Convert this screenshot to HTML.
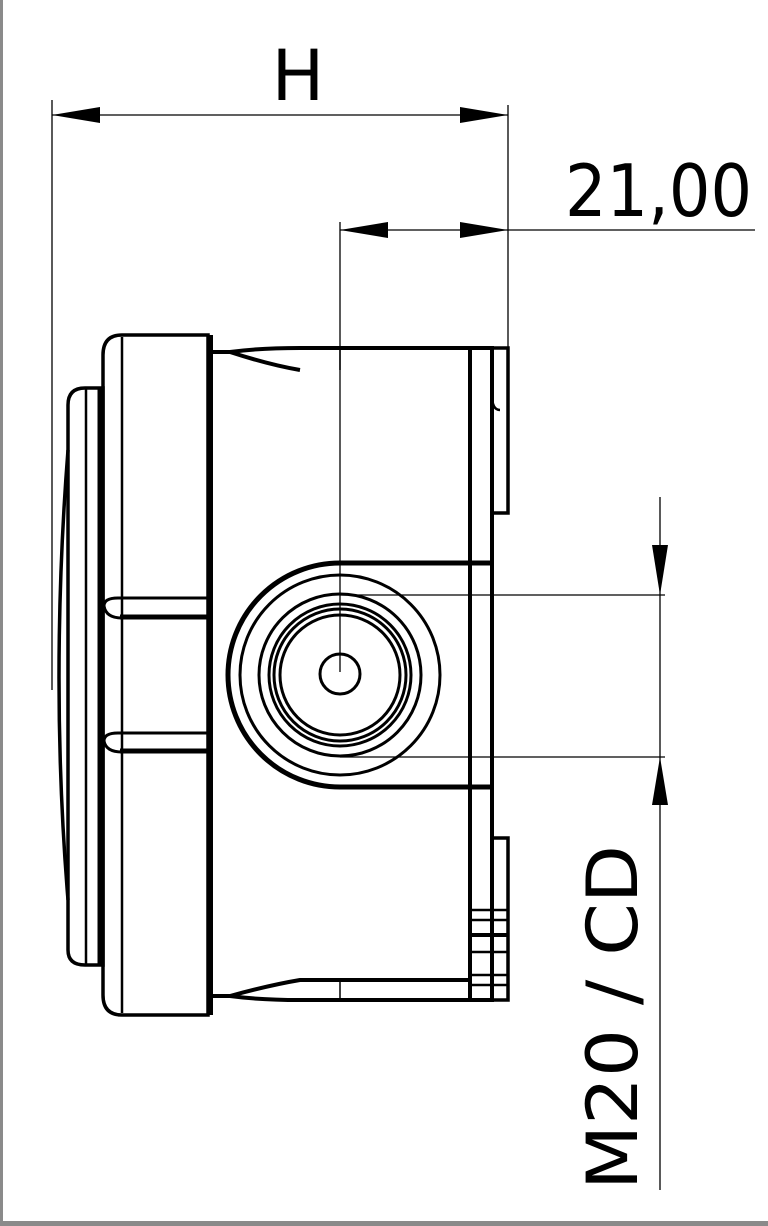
<!DOCTYPE html>
<html><head><meta charset="utf-8"><style>
html,body{margin:0;padding:0;background:#fff}
svg{display:block}
text{font-family:"DejaVu Sans","Liberation Sans",sans-serif;fill:#000}
</style></head><body>
<svg width="768" height="1226" viewBox="0 0 768 1226" xmlns="http://www.w3.org/2000/svg">
<rect x="0" y="0" width="768" height="1226" fill="#fff"/>
<rect x="0" y="0" width="3" height="1226" fill="#8a8a8a"/>
<rect x="0" y="1221" width="768" height="5" fill="#8a8a8a"/>
<g stroke="#000" fill="none">
<g stroke-width="1.3">
<line x1="52" y1="100" x2="52" y2="690"/>
<line x1="508" y1="105" x2="508" y2="350"/>
<line x1="52" y1="115" x2="508" y2="115"/>
<line x1="340" y1="222" x2="340" y2="672"/>
<line x1="340" y1="230" x2="755" y2="230"/>
<line x1="660" y1="497" x2="660" y2="1190"/>
<line x1="340" y1="595" x2="665" y2="595"/>
<line x1="340" y1="757" x2="665" y2="757"/>
</g>
<path d="M68 405 Q68 388 85 388 L103 388 L103 965 L85 965 Q68 965 68 950 Z" stroke-width="3.5"/>
<line x1="86" y1="388" x2="86" y2="965" stroke-width="2.5"/>
<line x1="100" y1="388" x2="100" y2="965" stroke-width="5"/>
<path d="M68 450 Q50 680 68 900" stroke-width="3.5"/>
<path d="M122 335 L208 335 L208 1015 L122 1015 Q103 1015 103 995 L103 355 Q103 335 122 335 Z" stroke-width="3.5"/>
<line x1="122" y1="337" x2="122" y2="1013" stroke-width="2.5"/>
<line x1="210" y1="335" x2="210" y2="1015" stroke-width="6"/>
<path d="M208 598 L118 598 Q104 598 104 606 Q106 618 122 618 L208 618" stroke-width="3"/>
<line x1="120" y1="617" x2="208" y2="617" stroke-width="5"/>
<path d="M208 733 L118 733 Q104 733 104 741 Q106 752 122 752 L208 752" stroke-width="3"/>
<line x1="120" y1="751" x2="208" y2="751" stroke-width="5"/>
<path d="M210 352 L230 352 Q260 348 300 348 L492 348 L492 1000 L300 1000 Q260 1000 230 996 L210 996" stroke-width="4"/>
<path d="M230 352 Q270 365 300 370" stroke-width="4"/>
<path d="M230 996 Q270 985 300 980 L470 980" stroke-width="4"/>
<line x1="470" y1="348" x2="470" y2="1000" stroke-width="4"/>
<line x1="340" y1="980" x2="340" y2="1000" stroke-width="1.5"/>
<line x1="340" y1="348" x2="340" y2="370" stroke-width="1.5"/>
<path d="M492 348 L508 348 L508 513 L492 513" stroke-width="3.5"/>
<path d="M492 395 Q492 410 500 410" stroke-width="2.5"/>
<path d="M492 838 L508 838 L508 1000 L492 1000" stroke-width="3.5"/>
<line x1="470" y1="910" x2="508" y2="910" stroke-width="2.5"/>
<line x1="470" y1="920" x2="508" y2="920" stroke-width="2.5"/>
<line x1="470" y1="935" x2="508" y2="935" stroke-width="4"/>
<line x1="470" y1="952" x2="508" y2="952" stroke-width="2.5"/>
<line x1="470" y1="975" x2="508" y2="975" stroke-width="2.5"/>
<line x1="470" y1="985" x2="508" y2="985" stroke-width="2.5"/>
<path d="M492 563 L340 563 A112 112 0 0 0 340 787 L492 787" stroke-width="5"/>
<circle cx="340" cy="675" r="100" stroke-width="3"/>
<circle cx="340" cy="675" r="81" stroke-width="3"/>
<circle cx="340" cy="675" r="71" stroke-width="3"/>
<circle cx="340" cy="675" r="66" stroke-width="3"/>
<circle cx="340" cy="675" r="60" stroke-width="3"/>
<circle cx="340" cy="674" r="20" stroke-width="3"/>
</g>
<g fill="#000">
<polygon points="52,115 100,107 100,123"/>
<polygon points="508,115 460,107 460,123"/>
<polygon points="340,230 388,222 388,238"/>
<polygon points="508,230 460,222 460,238"/>
<polygon points="660,595 652,545 668,545"/>
<polygon points="660,757 652,805 668,805"/>
</g>
<text x="298" y="100" font-size="70" text-anchor="middle">H</text>
<text x="565" y="216" font-size="72" textLength="187" lengthAdjust="spacingAndGlyphs">21,00</text>
<text transform="translate(637,1190) rotate(-90)" font-size="70" textLength="345" lengthAdjust="spacingAndGlyphs">M20 / CD</text>
</svg>
</body></html>
